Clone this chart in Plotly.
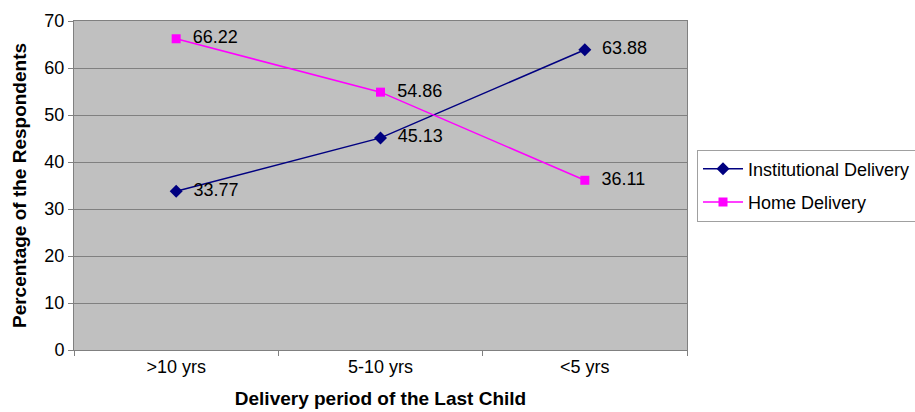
import plotly.graph_objects as go

categories = [">10 yrs", "5-10 yrs", "<5 yrs"]
institutional = [33.77, 45.13, 63.88]
home = [66.22, 54.86, 36.11]
y_ticks = [0, 10, 20, 30, 40, 50, 60, 70]

font = "Liberation Sans, Arial, sans-serif"
pad = "\u00a0\u00a0"

fig = go.Figure()
fig.add_trace(go.Scatter(
    x=categories, y=institutional, name="Institutional Delivery",
    legendgroup="a",
    mode="lines+markers+text",
    line=dict(color="#000080", width=1.5),
    marker=dict(symbol="diamond", size=10, color="#000080"),
    text=[pad + f"{v:.2f}" for v in institutional], textposition="middle right",
    textfont=dict(family=font, size=18, color="black"),
))
fig.add_trace(go.Scatter(
    x=categories, y=home, name="Home Delivery",
    legendgroup="b",
    mode="lines+markers+text",
    line=dict(color="#FF00FF", width=1.5),
    marker=dict(symbol="square", size=9, color="#FF00FF"),
    text=[pad + f"{v:.2f}" for v in home], textposition="middle right",
    textfont=dict(family=font, size=18, color="black"),
))

fig.update_layout(
    width=915, height=412,
    margin=dict(l=74, r=228, t=21, b=62),
    paper_bgcolor="white", plot_bgcolor="#C0C0C0",
    font=dict(family=font, size=18, color="black"),
    showlegend=True,
    legend=dict(xref="container", yref="container",
                x=697 / 915, y=(412 - 185.5) / 412, xanchor="left", yanchor="middle",
                bgcolor="white", bordercolor="#A0A0A0", borderwidth=1,
                font=dict(family=font, size=18, color="black"),
                traceorder="grouped", tracegroupgap=7, itemwidth=40),
    xaxis=dict(
        type="category", range=[-0.5, 2.5], automargin=False,
        showgrid=False, showline=True, linecolor="#808080", linewidth=1, mirror=True,
        ticks="outside", ticklen=5, tickcolor="#808080", tickson="boundaries",
        tickfont=dict(size=18),
        title=dict(text="<b>Delivery period of the Last Child</b>", font=dict(size=19), standoff=16),
    ),
    yaxis=dict(
        range=[0, 70], tickvals=y_ticks, automargin=False,
        showgrid=True, gridcolor="#808080", gridwidth=1,
        showline=True, linecolor="#808080", linewidth=1, mirror=True,
        ticks="outside", ticklen=5, tickcolor="#808080",
        tickfont=dict(size=18), zeroline=False,
        title=dict(text="<b>Percentage of the Respondents</b>", font=dict(size=19), standoff=12),
    ),
)

fig.write_html("out.html", config={"displayModeBar": False},
               post_script="document.body.style.margin='0';document.body.style.overflow='hidden';")
